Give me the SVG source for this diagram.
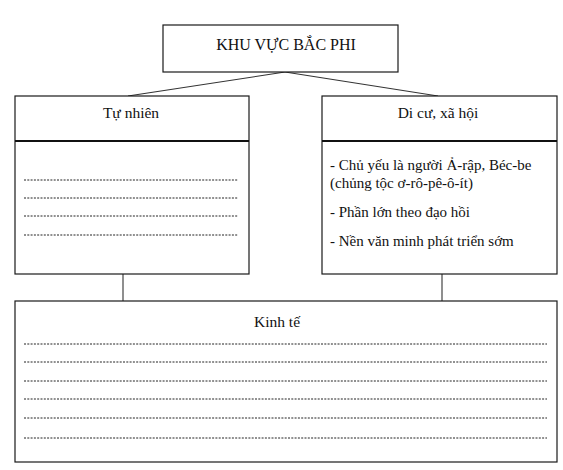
<svg xmlns="http://www.w3.org/2000/svg" width="563" height="470" viewBox="0 0 563 470">
<style>
.box{fill:#fff;stroke:#1a1a1a;stroke-width:1.2}
.div{stroke:#111;stroke-width:2}
.dot{stroke:#222;stroke-width:1;stroke-dasharray:2 1.3}
.conn{stroke:#333;stroke-width:1.1;fill:none}
text{fill:#111}
.h{font-size:15.5px;text-anchor:middle}
.t{font-size:16px;text-anchor:middle}
.b{font-size:15px}
</style>
<rect width="563" height="470" fill="#fff"/>
<g id="connectors">
<line class="conn" x1="285" y1="72" x2="128" y2="96"/>
<line class="conn" x1="285" y1="72" x2="438" y2="96"/>
<line class="conn" x1="123" y1="274" x2="123" y2="301"/>
<line class="conn" x1="442" y1="274" x2="442" y2="301"/>
</g>
<g font-family="'Liberation Serif', 'DejaVu Serif', serif">
<g id="title">
<rect class="box" x="163" y="25" width="235" height="47"/>
<text class="t" x="286" y="50">KHU VỰC BẮC PHI</text>
</g>
<g id="tu-nhien">
<rect class="box" x="15" y="96" width="234" height="178"/>
<line class="div" x1="15" y1="141" x2="249" y2="141"/>
<text class="h" x="131" y="118">Tự nhiên</text>
<line class="dot" x1="24" y1="180" x2="238" y2="180"/>
<line class="dot" x1="24" y1="198" x2="238" y2="198"/>
<line class="dot" x1="24" y1="216" x2="238" y2="216"/>
<line class="dot" x1="24" y1="235" x2="238" y2="235"/>
</g>
<g id="di-cu">
<rect class="box" x="322" y="96" width="235" height="178"/>
<line class="div" x1="322" y1="141" x2="557" y2="141"/>
<text class="h" x="438" y="118">Di cư, xã hội</text>
<text class="b" x="330" y="170">- Chủ yếu là người Ả-rập, Béc-be</text>
<text class="b" x="330" y="188">(chủng tộc ơ-rô-pê-ô-ít)</text>
<text class="b" x="330" y="217">- Phần lớn theo đạo hồi</text>
<text class="b" x="330" y="246">- Nền văn minh phát triển sớm</text>
</g>
<g id="kinh-te">
<rect class="box" x="15" y="301" width="542" height="161"/>
<text class="h" x="277" y="327">Kinh tế</text>
<line class="dot" x1="24" y1="344" x2="547" y2="344"/>
<line class="dot" x1="24" y1="362" x2="547" y2="362"/>
<line class="dot" x1="24" y1="381" x2="547" y2="381"/>
<line class="dot" x1="24" y1="399" x2="547" y2="399"/>
<line class="dot" x1="24" y1="418" x2="547" y2="418"/>
<line class="dot" x1="24" y1="438" x2="547" y2="438"/>
</g>
</g>
</svg>
